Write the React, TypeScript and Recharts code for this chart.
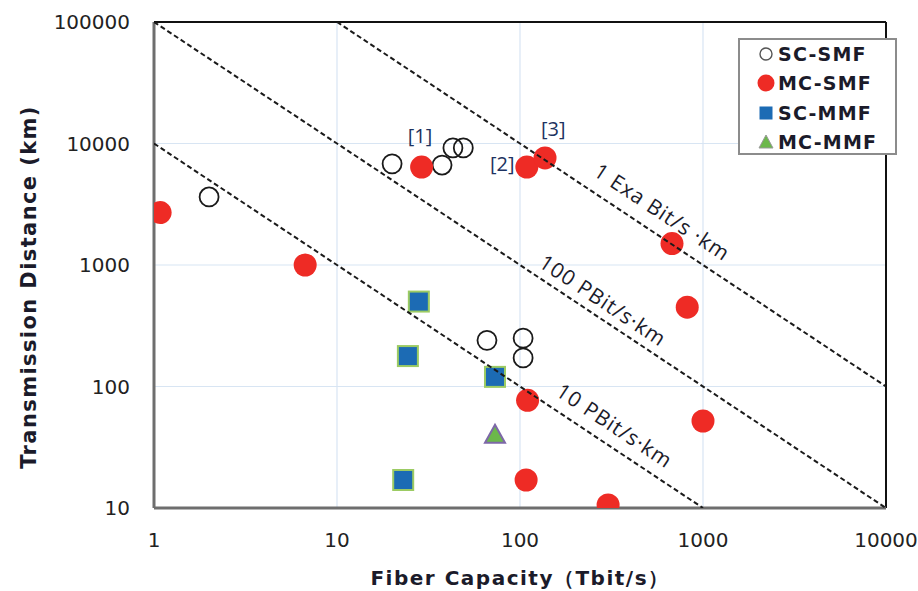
import React from 'react';
import {
  ScatterChart,
  Scatter,
  XAxis,
  YAxis,
  CartesianGrid,
  ReferenceLine,
  ReferenceDot,
  Legend,
} from 'recharts';

// axis ticks (log decades)
const xTicks = [1, 10, 100, 1000, 10000];
const yTicks = [10, 100, 1000, 10000, 100000];

// capacity (Tbit/s) vs distance (km)
const scSmfCapacity = [2, 20, 37.5, 43, 49, 66, 104, 104];
const scSmfDistance = [3630, 6800, 6650, 9200, 9200, 240, 250, 172];

const mcSmfCapacity = [1.08, 6.7, 29, 109, 137, 677, 820, 110, 1000, 108, 303];
const mcSmfDistance = [2700, 1000, 6400, 6400, 7600, 1500, 450, 77, 52, 17, 10.6];

const scMmfCapacity = [28, 24.4, 23, 73];
const scMmfDistance = [500, 178, 17, 120];

const mcMmfCapacity = [73];
const mcMmfDistance = [40];

// capacity x distance product lines
const productLabels = ['10 PBit/s·km', '100 PBit/s·km', '1 Exa Bit/s ·km'];
const productStart = [
  { x: 1, y: 10000 },
  { x: 1, y: 100000 },
  { x: 10, y: 100000 },
];
const productEnd = [
  { x: 1000, y: 10 },
  { x: 10000, y: 10 },
  { x: 10000, y: 100 },
];
const productLabelAt = [
  { x: 330, y: 48 },
  { x: 285, y: 515 },
  { x: 600, y: 2750 },
];

// reference tags
const refTags = ['[1]', '[2]', '[3]'];
const refTagAt = [
  { x: 28.4, y: 11700 },
  { x: 80, y: 6900 },
  { x: 152, y: 13400 },
];

const legendNames = ['SC-SMF', 'MC-SMF', 'SC-MMF', 'MC-MMF'];

const W = 918;
const H = 591;
const margin = { top: 22, right: 32, bottom: 0, left: 0 };
const yAxisWidth = 154;
const xAxisHeight = 83;
const plotW = W - margin.left - margin.right - yAxisWidth;
const plotH = H - margin.top - margin.bottom - xAxisHeight;
// slope of x*y=const lines in pixels
const lineAngle = (Math.atan2(plotH / 4, plotW / 4) * 180) / Math.PI;

const toPoints = (xs: number[], ys: number[]) => xs.map((x, i) => ({ x, y: ys[i] }));

const RED = '#ee2b25';
const BLUE = '#1c6bb4';
const TXT = '#1b1b2a';

const OpenCircle = (p: any) =>
  p.cx == null ? null : (
    <circle cx={p.cx} cy={p.cy} r={9.5} fill="none" stroke="#1a1a1a" strokeWidth={1.8} />
  );
const RedDot = (p: any) =>
  p.cx == null ? null : <circle cx={p.cx} cy={p.cy} r={11.5} fill={RED} />;
const BlueSquare = (p: any) =>
  p.cx == null ? null : (
    <rect x={p.cx - 10} y={p.cy - 10} width={20} height={20} fill={BLUE} stroke="#9ccb63" strokeWidth={2} />
  );
const Triangle = (p: any) =>
  p.cx == null ? null : (
    <polygon
      points={`${p.cx},${p.cy - 10} ${p.cx + 10},${p.cy + 8} ${p.cx - 10},${p.cy + 8}`}
      fill="#6cb84b"
      stroke="#7d68a8"
      strokeWidth={2}
    />
  );
const NoMark = () => <g />;

const lineLabel = (text: string) => (p: any) =>
  p.cx == null ? null : (
    <text
      x={p.cx}
      y={p.cy}
      transform={`rotate(${lineAngle}, ${p.cx}, ${p.cy})`}
      textAnchor="middle"
      dominantBaseline="central"
      fontFamily="Open Sans"
      fontSize={21}
      letterSpacing={1}
      fill={TXT}
    >
      {text}
    </text>
  );

const tagLabel = (text: string) => (p: any) =>
  p.cx == null ? null : (
    <text
      x={p.cx}
      y={p.cy}
      textAnchor="middle"
      dominantBaseline="central"
      fontFamily="Open Sans"
      fontSize={20}
      fill="#1d3260"
    >
      {text}
    </text>
  );

const legendIcon = (i: number) => {
  if (i === 0) return <circle cx={10} cy={10} r={6} fill="none" stroke="#555" strokeWidth={1.4} />;
  if (i === 1) return <circle cx={10} cy={10} r={8.5} fill={RED} />;
  if (i === 2) return <rect x={3.5} y={3.5} width={13} height={13} fill={BLUE} />;
  return <polygon points="10,3 17,16 3,16" fill="#6cb84b" stroke="#999" strokeWidth={1} />;
};

const renderLegend = () => (
  <div
    style={{
      position: 'relative',
      width: 155,
      height: 113,
      border: '2px solid #8c8c8c',
      background: '#fff',
    }}
  >
    {legendNames.map((name, i) => (
      <div
        key={name}
        style={{
          position: 'absolute',
          left: 16,
          top: i * 29.5 - 1,
          height: 29,
          display: 'flex',
          alignItems: 'center',
        }}
      >
        <svg width={20} height={20} style={{ marginRight: 2 }}>
          {legendIcon(i)}
        </svg>
        <span
          style={{
            fontFamily: 'DejaVu Sans',
            fontWeight: 'bold',
            fontSize: 19,
            letterSpacing: 1.2,
            color: TXT,
          }}
        >
          {name}
        </span>
      </div>
    ))}
  </div>
);

const YTitle = (p: any) => {
  const cx = 29;
  const cy = p.viewBox.y + p.viewBox.height / 2 + 22;
  return (
    <text
      x={cx}
      y={cy}
      transform={`rotate(-90, ${cx}, ${cy})`}
      textAnchor="middle"
      dominantBaseline="central"
      fontFamily="DejaVu Sans"
      fontWeight="bold"
      fontSize={21}
      letterSpacing={1.4}
      fill={TXT}
    >
      Transmission Distance (km)
    </text>
  );
};

const XTitle = (p: any) => {
  const cx = p.viewBox.x + p.viewBox.width / 2;
  return (
    <text
      x={cx}
      y={585}
      textAnchor="middle"
      fontFamily="DejaVu Sans"
      fontWeight="bold"
      fontSize={20}
      letterSpacing={1.5}
      fill={TXT}
    >
      Fiber Capacity（Tbit/s）
    </text>
  );
};

const tickStyle = { fill: '#222', fontSize: 20, fontFamily: 'DejaVu Sans' };

export default function App() {
  return (
    <div style={{ position: 'absolute', left: 0, top: 0, background: '#fff' }}>
      <ScatterChart width={W} height={H} margin={margin}>
        <CartesianGrid stroke="#d8e5f3" strokeWidth={1.2} />
        <XAxis
          type="number"
          dataKey="x"
          scale="log"
          domain={[1, 10000]}
          ticks={xTicks}
          allowDataOverflow
          height={xAxisHeight}
          tickLine={false}
          tickMargin={19}
          axisLine={{ stroke: '#6e6e6e', strokeWidth: 3 }}
          tick={tickStyle}
          label={{ content: XTitle }}
        />
        <YAxis
          type="number"
          dataKey="y"
          scale="log"
          domain={[10, 100000]}
          ticks={yTicks}
          allowDataOverflow
          width={yAxisWidth}
          tickLine={false}
          tickMargin={18}
          axisLine={{ stroke: '#6e6e6e', strokeWidth: 3 }}
          tick={tickStyle}
          label={{ content: YTitle }}
        />
        <ReferenceLine y={100000} stroke="#111" strokeWidth={2} />
        <ReferenceLine x={10000} stroke="#111" strokeWidth={2} />

        <Scatter name="SC-SMF" data={toPoints(scSmfCapacity, scSmfDistance)} shape={OpenCircle} isAnimationActive={false} />
        <Scatter name="MC-SMF" data={toPoints(mcSmfCapacity, mcSmfDistance)} shape={RedDot} isAnimationActive={false} />
        <Scatter name="SC-MMF" data={toPoints(scMmfCapacity, scMmfDistance)} shape={BlueSquare} isAnimationActive={false} />
        <Scatter name="MC-MMF" data={toPoints(mcMmfCapacity, mcMmfDistance)} shape={Triangle} isAnimationActive={false} />

        {/* dashed x*y = const lines, drawn over the markers */}
        {productLabels.map((name, i) => (
          <Scatter
            key={name}
            name={name}
            data={[productStart[i], productEnd[i]]}
            shape={NoMark}
            line={{ stroke: '#1a1a1a', strokeWidth: 2, strokeDasharray: '5 3' }}
            isAnimationActive={false}
          />
        ))}
        {productLabels.map((name, i) => (
          <ReferenceDot
            key={'l' + name}
            x={productLabelAt[i].x}
            y={productLabelAt[i].y}
            r={0}
            shape={lineLabel(name)}
          />
        ))}
        {refTags.map((tag, i) => (
          <ReferenceDot key={tag} x={refTagAt[i].x} y={refTagAt[i].y} r={0} shape={tagLabel(tag)} />
        ))}

        <Legend
          layout="horizontal"
          verticalAlign="middle"
          align="center"
          content={renderLegend}
          wrapperStyle={{ left: 738, top: 38, width: 159, height: 117 }}
        />
      </ScatterChart>
    </div>
  );
}
